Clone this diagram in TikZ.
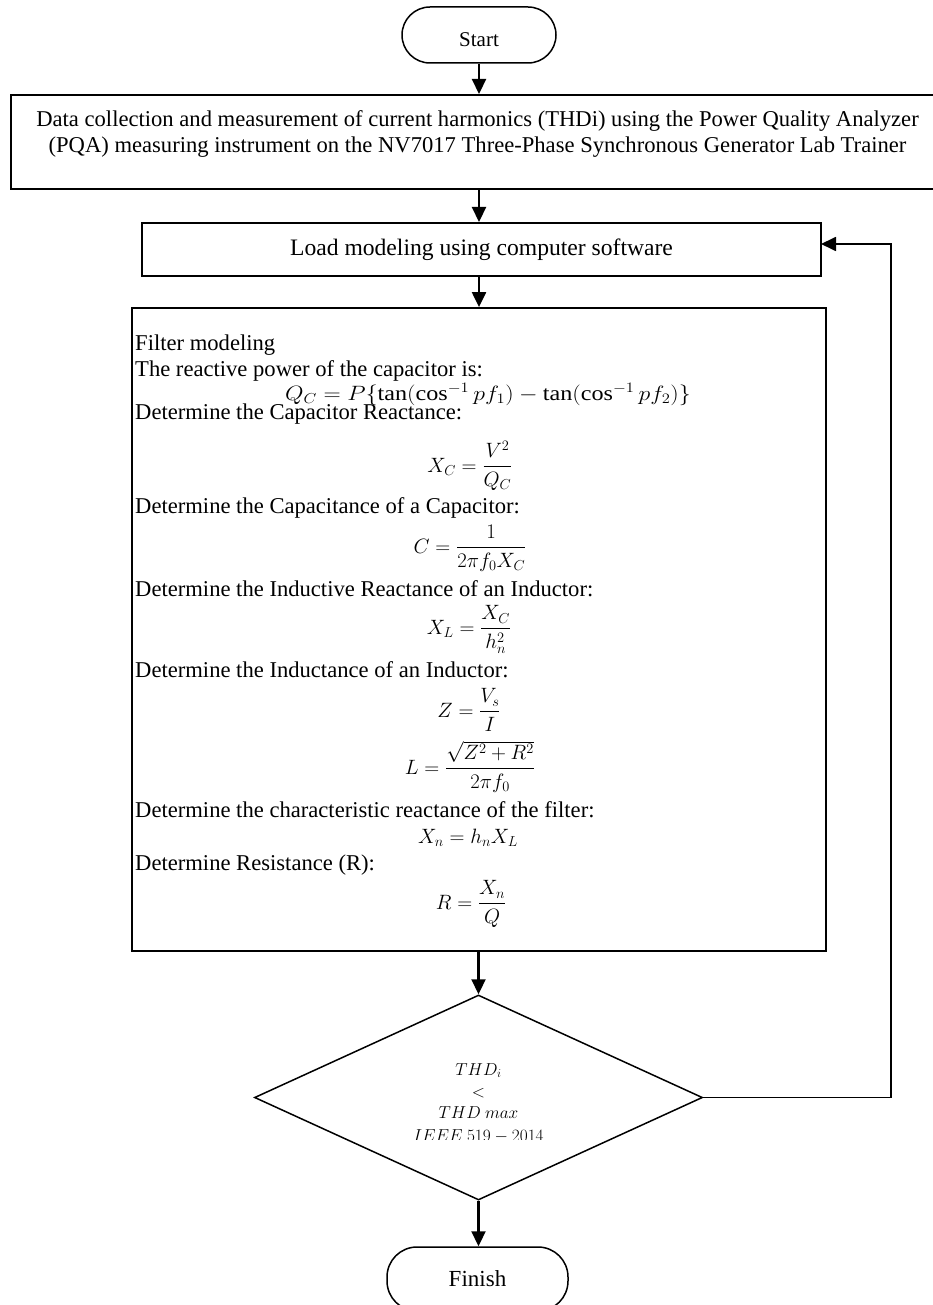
\documentclass[tikz,border=0pt]{standalone}
\usepackage{amsmath}
\usepackage{graphicx}
\usepackage{fontspec}
\setmainfont{Liberation Serif}
\usetikzlibrary{arrows.meta,shapes.geometric,calc}
\begin{document}
\begin{tikzpicture}[x=1pt,y=-1pt,
  box/.style={draw, rectangle, line width=2pt, inner sep=0pt},
  term/.style={draw, rectangle, rounded corners=28pt, line width=1.5pt, inner sep=0pt},
  txt/.style={inner sep=0pt, font=\fontsize{22.6}{26}\selectfont},
  lefttxt/.style={txt, anchor=base west},
  eq/.style={inner sep=0pt, font=\fontsize{21}{26}\selectfont, anchor=base},
  dtxt/.style={inner sep=0pt, font=\fontsize{17}{21}\selectfont, anchor=base},
  arr/.style={line width=2.2pt, -{Triangle[length=15pt,width=14pt]}},
  fb/.style={line width=1.8pt, -{Triangle[length=15pt,width=14pt]}}
]
\useasboundingbox (0,0) rectangle (933,1305);
\clip (0,0) rectangle (933,1305);

% Start
\node[term, minimum width=154pt, minimum height=56pt] (start) at (479,35) {};
\node[inner sep=0pt, font=\fontsize{21}{26}\selectfont, anchor=base] (starttxt) at (479,47) {Start};

% Data collection box
\node[box, minimum width=929pt, minimum height=94pt] (data) at (475.5,142) {};
\node[txt, anchor=base] (data1) at (477.5,127) {Data collection and measurement of current harmonics (THDi) using the Power Quality Analyzer};
\node[txt, anchor=base] (data2) at (477.5,153) {(PQA) measuring instrument on the NV7017 Three-Phase Synchronous Generator Lab Trainer};

% Load modeling
\node[box, minimum width=679pt, minimum height=53pt, font=\fontsize{23.6}{26}\selectfont] (load) at (481.5,249.5) {Load modeling using computer software};

% Filter modeling box
\node[box, line width=1.8pt, minimum width=694pt, minimum height=643pt] (filter) at (479,629.5) {};
\node[lefttxt] (t1) at (135,350) {Filter modeling};
\node[lefttxt] (t2) at (135,376) {The reactive power of the capacitor is:};
\node[eq] (e1) at (488,400) {\scalebox{1.15}[1]{$Q_C = P\{\tan(\cos^{-1} pf_1) - \tan(\cos^{-1} pf_2)\}$}};
\node[lefttxt] (t3) at (135,419) {Determine the Capacitor Reactance:};
\node[eq] (e2) at (470,472) {$\displaystyle X_C = \frac{V^2}{Q_C}$};
\node[lefttxt] (t4) at (135,513) {Determine the Capacitance of a Capacitor:};
\node[eq] (e3) at (470,553) {$\displaystyle C = \frac{1}{2\pi f_0 X_C}$};
\node[lefttxt] (t5) at (135,596) {Determine the Inductive Reactance of an Inductor:};
\node[eq] (e4) at (469,634) {$\displaystyle X_L = \frac{X_C}{h_n^2}$};
\node[lefttxt] (t6) at (135,677) {Determine the Inductance of an Inductor:};
\node[eq] (e5) at (469,717) {$\displaystyle Z = \frac{V_s}{I}$};
\node[eq] (e6) at (470,774) {$\displaystyle L = \frac{\sqrt{Z^2+R^2}}{2\pi f_0}$};
\node[lefttxt] (t7) at (135,817) {Determine the characteristic reactance of the filter:};
\node[eq] (e7) at (468,843) {$X_n = h_n X_L$};
\node[lefttxt] (t8) at (135,870) {Determine Resistance (R):};
\node[eq] (e8) at (471,909) {$\displaystyle R = \frac{X_n}{Q}$};

% Decision
\node[draw, diamond, line width=1.5pt, minimum width=448pt, minimum height=205pt, inner sep=0pt] (dec) at (478.5,1097.5) {};
\node[dtxt] (d1) at (478.5,1075) {$THD_i$};
\node[dtxt, anchor=center] (d2) at (478.5,1093) {$<$};
\node[dtxt] (d3) at (478.5,1118) {$THD\ max$};
\begin{scope}
\clip (300,1120) rectangle (660,1139);
\node[dtxt] (d4) at (478.5,1141) {$IEEE\ 519-2014$};
\end{scope}

% Finish
\node[term, rounded corners=30pt, minimum width=181pt, minimum height=64pt, font=\fontsize{23}{26}\selectfont] (finish) at (477.5,1279) {Finish};

% Connectors
\draw[arr] (start.south) -- (start.south |- data.north);
\draw[arr] (start.south |- data.south) -- (start.south |- load.north);
\draw[arr] (start.south |- load.south) -- (start.south |- filter.north);
\draw[arr] (filter.south -| dec.north) -- (dec.north);
\draw[arr] (dec.south) -- (dec.south |- finish.north);
\coordinate (fbc) at (891,1097.5);
\coordinate (lin) at (821,244);
\draw[fb] (dec.east) -- (fbc) |- (lin);
\end{tikzpicture}
\end{document}
